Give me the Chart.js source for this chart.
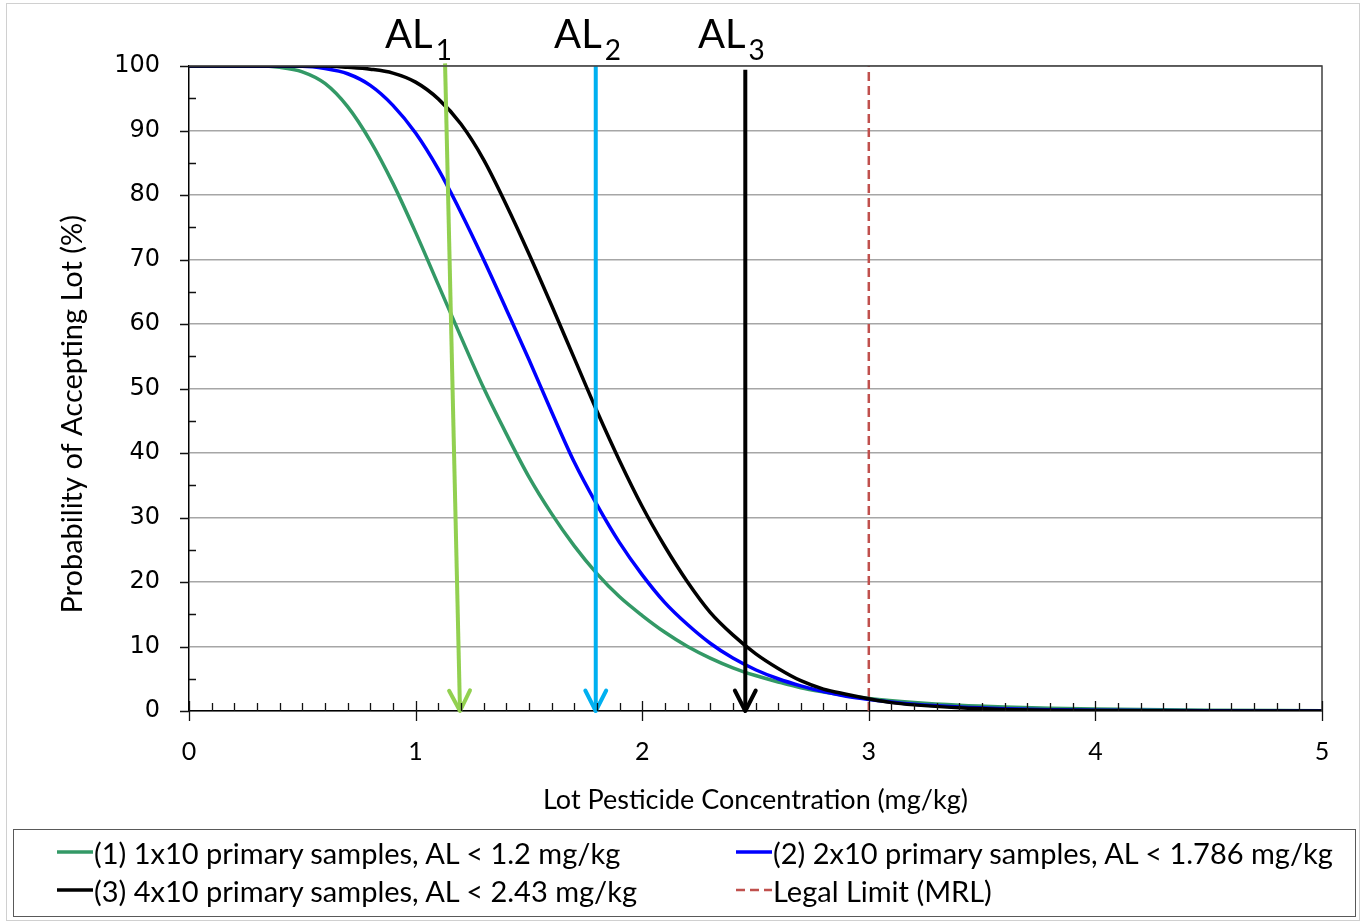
<!DOCTYPE html>
<html><head><meta charset="utf-8">
<script src="https://cdn.jsdelivr.net/npm/chart.js@4.4.1/dist/chart.umd.min.js"></script>
<style>
html,body{margin:0;padding:0;background:#fff;}
#wrap{position:relative;width:1364px;height:924px;overflow:hidden;}
#frame{position:absolute;left:6px;top:3px;width:1354px;height:918px;border:1px solid #d0d0d0;box-sizing:border-box;}
canvas{position:absolute;left:0;top:0;}
#legend{position:absolute;left:13px;top:829px;width:1343px;height:88px;border:1.5px solid #595959;box-sizing:border-box;font-family:Lato, sans-serif;font-size:29px;color:#000;}
.item{position:absolute;display:flex;align-items:center;height:34px;white-space:nowrap;}
.item svg{margin-right:1px;}
</style></head>
<body><div id="wrap"><div id="frame"></div><canvas id="c" width="1364" height="924"></canvas><div id="legend"></div></div>
<script>
// ---- data ----
const seriesLabels = [
  '(1) 1x10 primary samples, AL < 1.2 mg/kg',
  '(2) 2x10 primary samples, AL < 1.786 mg/kg',
  '(3) 4x10 primary samples, AL < 2.43 mg/kg'
];
const mrlLabel = 'Legal Limit (MRL)';
const xTitle = 'Lot Pesticide Concentration (mg/kg)';
const yTitle = 'Probability of Accepting Lot (%)';

const s1X = [0, 0.3, 0.4, 0.5, 0.6, 0.7, 0.8, 0.9, 1.0, 1.1, 1.2, 1.3, 1.4, 1.5, 1.6, 1.7, 1.8, 1.9, 2.0, 2.1, 2.2, 2.3, 2.4, 2.5, 2.6, 2.7, 2.8, 2.9, 3.0, 3.2, 3.4, 3.6, 3.8, 4.0, 4.5, 5.0];
const s1Y = [100, 100, 99.8, 99.1, 97.3, 93.7, 88.4, 81.8, 74.2, 66.1, 58.0, 50.1, 43.0, 36.3, 30.6, 25.6, 21.3, 17.7, 14.8, 12.2, 10.0, 8.2, 6.7, 5.5, 4.5, 3.6, 2.95, 2.4, 1.95, 1.33, 0.9, 0.62, 0.42, 0.3, 0.12, 0.05];

const s2X = [0, 0.5, 0.6, 0.7, 0.8, 0.9, 1.0, 1.1, 1.2, 1.3, 1.4, 1.5, 1.6, 1.7, 1.8, 1.9, 2.0, 2.1, 2.2, 2.3, 2.4, 2.5, 2.6, 2.7, 2.8, 2.9, 3.0, 3.2, 3.4, 3.6, 3.8, 4.0, 4.5, 5.0];
const s2Y = [100, 99.95, 99.6, 98.8, 97.0, 93.9, 89.6, 84.0, 77.3, 70.0, 62.3, 54.5, 46.4, 38.6, 32.0, 26.1, 21.1, 16.8, 13.4, 10.5, 8.2, 6.4, 5.0, 3.9, 3.0, 2.3, 1.8, 1.04, 0.61, 0.36, 0.21, 0.12, 0.03, 0.01];

const s3X = [0, 0.6, 0.7, 0.8, 0.9, 1.0, 1.1, 1.2, 1.3, 1.4, 1.5, 1.6, 1.7, 1.8, 1.9, 2.0, 2.1, 2.2, 2.3, 2.4, 2.5, 2.6, 2.7, 2.8, 2.9, 3.0, 3.1, 3.2, 3.4, 3.6, 3.8, 4.0, 4.5, 5.0];
const s3Y = [100, 100, 99.8, 99.5, 98.9, 97.5, 94.9, 91.0, 85.5, 78.5, 70.9, 62.9, 54.7, 46.5, 38.8, 31.7, 25.5, 20.0, 15.3, 11.8, 8.9, 6.6, 4.7, 3.4, 2.6, 1.9, 1.3, 0.95, 0.5, 0.25, 0.13, 0.07, 0.01, 0];

const mrlX = [3, 3];
const mrlY = [0, 100];

const alNames = ['1', '2', '3'];
const alTopX = [1.13, 1.795, 2.455];
const alTopY = [100.4, 100, 99.4];
const alBotX = [1.196, 1.795, 2.455];
const alBotY = [0, 0, 0];
const alTextX = [0.865, 1.611, 2.246];
const alTextY = 102.74;

const xTickLabels = ['0', '1', '2', '3', '4', '5'];
const yTickLabels = ['0', '10', '20', '30', '40', '50', '60', '70', '80', '90', '100'];

// ---- styles ----
const curveColors = ['#339966', '#0000ff', '#000000'];
const arrowColors = ['#92d050', '#00b0f0', '#000000'];
const mrlColor = '#c0504d';

const pts = (xs, ys) => xs.map((v, i) => ({x: v, y: ys[i]}));

const curveSets = [[s1X, s1Y], [s2X, s2Y], [s3X, s3Y]];
const datasets = [];
alTopX.forEach((_, i) => {
  datasets.push({
    label: 'AL' + alNames[i], data: [{x: alTopX[i], y: alTopY[i]}, {x: alBotX[i], y: alBotY[i]}],
    borderColor: arrowColors[i], borderWidth: 4, pointRadius: 0, showLine: true, clip: false, order: 0
  });
});
curveSets.forEach((c, i) => {
  datasets.push({
    label: seriesLabels[i], data: pts(c[0], c[1]), borderColor: curveColors[i], borderWidth: 3.5,
    pointRadius: 0, showLine: true, cubicInterpolationMode: 'monotone', order: 3 - i
  });
});
datasets.push({
  label: mrlLabel, data: pts(mrlX, mrlY), borderColor: mrlColor, borderWidth: 2.5, borderDash: [9, 5],
  pointRadius: 0, showLine: true, order: 5
});

const decor = {
  id: 'decor',
  afterDatasetsDraw(chart) {
    const {ctx, scales: {x, y}} = chart;
    ctx.save();
    alTopX.forEach((_, i) => {
      const tx = x.getPixelForValue(alTopX[i]), ty = y.getPixelForValue(alTopY[i]);
      const bx = x.getPixelForValue(alBotX[i]), by = y.getPixelForValue(alBotY[i]);
      const ang = Math.atan2(by - ty, bx - tx);
      const L = 23, a = 27 * Math.PI / 180;
      ctx.strokeStyle = arrowColors[i]; ctx.lineWidth = 4; ctx.lineCap = 'round'; ctx.lineJoin = 'round';
      ctx.beginPath();
      ctx.moveTo(bx - L * Math.cos(ang - a), by - L * Math.sin(ang - a));
      ctx.lineTo(bx, by);
      ctx.lineTo(bx - L * Math.cos(ang + a), by - L * Math.sin(ang + a));
      ctx.stroke();
      const lx = x.getPixelForValue(alTextX[i]), ly = y.getPixelForValue(alTextY);
      ctx.fillStyle = '#000'; ctx.textBaseline = 'alphabetic'; ctx.textAlign = 'left';
      ctx.font = '40px Lato';
      ctx.fillText('AL', lx, ly);
      const w = ctx.measureText('AL').width;
      ctx.font = '28px Lato';
      ctx.fillText(alNames[i], lx + w + 3, ly + 12);
    });
    ctx.restore();
  },
  afterDraw(chart) {
    const {ctx, chartArea: ca, scales: {x, y}} = chart;
    ctx.save();
    ctx.strokeStyle = '#404040'; ctx.lineWidth = 1.5;
    ctx.beginPath();
    ctx.moveTo(ca.left, ca.top); ctx.lineTo(ca.right, ca.top); ctx.lineTo(ca.right, ca.bottom);
    ctx.stroke();
    ctx.strokeStyle = '#111'; ctx.lineWidth = 1.3;
    ctx.beginPath();
    for (let k = 0; k <= 50; k++) {
      const px = Math.round(x.getPixelForValue(k / 10)) + 0.5;
      if (k % 10 === 0) { ctx.moveTo(px, ca.bottom - 10); ctx.lineTo(px, ca.bottom + 10); }
      else { ctx.moveTo(px, ca.bottom); ctx.lineTo(px, ca.bottom - 8); }
    }
    for (let k = 0; k <= 20; k++) {
      const py = Math.round(y.getPixelForValue(k * 5)) + 0.5;
      if (k % 2 === 0) { ctx.moveTo(ca.left - 9, py); ctx.lineTo(ca.left, py); }
      else { ctx.moveTo(ca.left, py); ctx.lineTo(ca.left + 7, py); }
    }
    ctx.stroke();
    // y axis title (rotated), to the left of the axis, slightly below plot centre
    ctx.fillStyle = '#000';
    ctx.font = '29px Lato';
    ctx.textAlign = 'center'; ctx.textBaseline = 'middle';
    ctx.translate(73, y.getPixelForValue(46));
    ctx.rotate(-Math.PI / 2);
    ctx.fillText(yTitle, 0, 0);
    ctx.restore();
  }
};

Chart.defaults.font.family = 'Lato';
Chart.defaults.color = '#000';

new Chart(document.getElementById('c'), {
  type: 'scatter',
  data: {datasets},
  options: {
    responsive: false, animation: false,
    layout: {padding: {left: 0, top: 66, right: 42, bottom: 108}},
    plugins: {legend: {display: false}, tooltip: {enabled: false}},
    scales: {
      x: {
        type: 'linear', min: 0, max: 5,
        afterFit: s => { s.height = 105; },
        afterBuildTicks: s => { s.ticks = xTickLabels.map(t => ({value: Number(t)})); },
        ticks: {font: {family: 'Lato', size: 25}, color: '#000', padding: 26, callback: (v, i) => xTickLabels[i]},
        grid: {display: false, drawTicks: false},
        border: {display: true, color: '#000', width: 1.5},
        title: {display: true, text: xTitle, font: {family: 'Lato', size: 27}, color: '#000', padding: {top: 0, bottom: 0}}
      },
      y: {
        type: 'linear', min: 0, max: 100,
        afterFit: s => { s.width = 189; },
        afterBuildTicks: s => { s.ticks = yTickLabels.map(t => ({value: Number(t)})); },
        ticks: {font: {family: 'DejaVu Sans', size: 24}, color: '#000', padding: 29, callback: (v, i) => yTickLabels[i]},
        grid: {color: '#a6a6a6', lineWidth: 1.5, drawTicks: false},
        border: {display: true, color: '#000', width: 1.5},
        title: {display: false}
      }
    }
  },
  plugins: [decor]
});

// ---- legend ----
const legendItems = [
  {text: seriesLabels[0], color: curveColors[0], dash: null, left: 43, row: 0},
  {text: seriesLabels[1], color: curveColors[1], dash: null, left: 722, row: 0},
  {text: seriesLabels[2], color: curveColors[2], dash: null, left: 43, row: 1},
  {text: mrlLabel, color: mrlColor, dash: '9,5', left: 722, row: 1}
];
const rowCenters = [22, 60];
const leg = document.getElementById('legend');
legendItems.forEach(it => {
  const d = document.createElement('div');
  d.className = 'item';
  d.style.left = it.left + 'px';
  d.style.top = (rowCenters[it.row] - 17) + 'px';
  const dashAttr = it.dash ? ` stroke-dasharray="${it.dash}"` : '';
  d.innerHTML = `<svg width="36" height="8"><line x1="0" y1="4" x2="36" y2="4" stroke="${it.color}" stroke-width="${it.dash ? 2.5 : 3.5}"${dashAttr}/></svg>`;
  const sp = document.createElement('span');
  sp.textContent = it.text;
  d.appendChild(sp);
  leg.appendChild(d);
});
</script>
</body></html>
